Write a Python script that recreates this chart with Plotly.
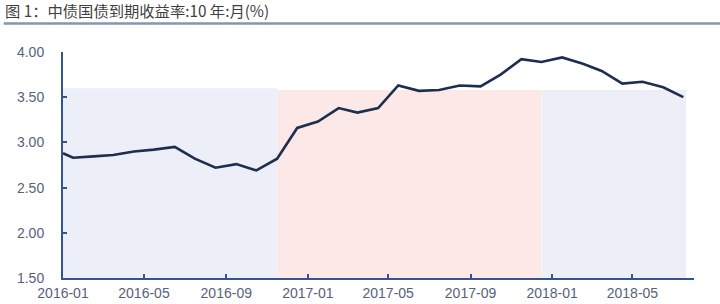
import plotly.graph_objects as go

# ---- data ----
start_date = "2016-01-01"
start_value = 2.88
months = ["2016-01", "2016-02", "2016-03", "2016-04", "2016-05", "2016-06",
          "2016-07", "2016-08", "2016-09", "2016-10", "2016-11", "2016-12",
          "2017-01", "2017-02", "2017-03", "2017-04", "2017-05", "2017-06",
          "2017-07", "2017-08", "2017-09", "2017-10", "2017-11", "2017-12",
          "2018-01", "2018-02", "2018-03", "2018-04", "2018-05", "2018-06",
          "2018-07"]
yields = [2.83, 2.845, 2.86, 2.90, 2.92, 2.95,
          2.82, 2.72, 2.76, 2.69, 2.82, 3.16,
          3.23, 3.38, 3.33, 3.38, 3.63, 3.57,
          3.58, 3.63, 3.62, 3.75, 3.92, 3.89,
          3.94, 3.87, 3.79, 3.65, 3.67, 3.61,
          3.50]

band_starts = ["2016-01-01", "2016-11-16", "2017-12-16"]
band_ends = ["2016-11-16", "2017-12-16", "2018-07-20"]
band_tops = [3.60, 3.58, 3.58]
band_colors = ["#EDEFF8", "#FDE8E8", "#EDEFF8"]

title_text = "图 1：中债国债到期收益率:10 年:月(%)"

# ---- figure ----
x_vals = [start_date] + [m + "-16" for m in months]
y_vals = [start_value] + yields

fig = go.Figure()
fig.add_trace(go.Scatter(
    x=x_vals, y=y_vals, mode="lines",
    line=dict(color="#1E2E4E", width=2.6),
    showlegend=False, hoverinfo="skip",
))

shapes = []
for x0, x1, top, col in zip(band_starts, band_ends, band_tops, band_colors):
    shapes.append(dict(type="rect", xref="x", yref="y", x0=x0, x1=x1,
                       y0=1.5, y1=top, fillcolor=col, line=dict(width=0),
                       layer="below"))
# title underline
shapes.append(dict(type="line", xref="paper", yref="paper",
                   x0=-0.094, x1=1.05, y0=1.126, y1=1.126,
                   line=dict(color="#8995AA", width=2.5)))

tick_font = dict(family="Liberation Sans, Arial, sans-serif", size=14, color="#56627A")
axis_col = "#34548A"

fig.update_layout(
    width=720, height=304,
    margin=dict(l=63, r=26, t=52, b=26, autoexpand=False),
    paper_bgcolor="white", plot_bgcolor="white",
    shapes=shapes,
    title=dict(text=title_text, x=5/720, xref="container", xanchor="left",
               y=1-11.5/304, yref="container", yanchor="middle",
               font=dict(family="Noto Sans CJK SC", size=15.3, color="#404040")),
)
fig.update_xaxes(
    type="date", range=["2016-01-01", "2018-08-01"],
    tick0="2016-01-01", dtick="M4", tickformat="%Y-%m",
    ticks="inside", ticklen=4, tickwidth=1.5, tickcolor=axis_col,
    showline=True, linecolor=axis_col, linewidth=2,
    showgrid=False, zeroline=False, tickfont=tick_font,
    ticklabelstandoff=1, automargin=False,
)
fig.update_yaxes(
    range=[1.5, 4.0], tickvals=[1.5, 2.0, 2.5, 3.0, 3.5, 4.0],
    tickformat=".2f",
    ticks="inside", ticklen=4, tickwidth=1.5, tickcolor=axis_col,
    showline=True, linecolor=axis_col, linewidth=2,
    showgrid=False, zeroline=False, tickfont=tick_font,
    ticklabelstandoff=14, automargin=False,
)

fig.write_html("out.html")
